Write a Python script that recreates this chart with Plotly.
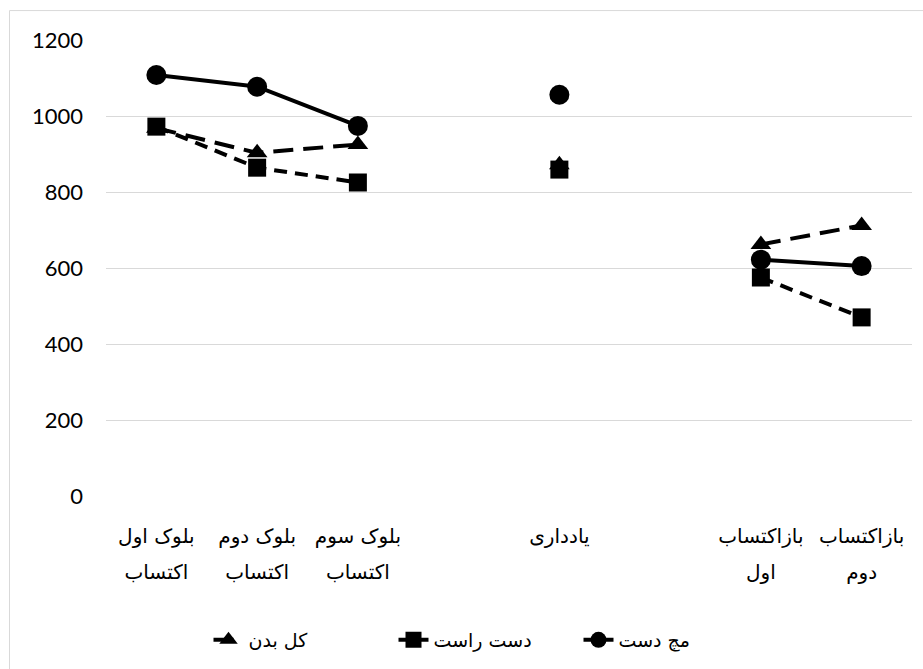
import plotly.graph_objects as go

# Category slots on the x axis (two empty slots separate the three phases)
slots = [0, 1, 2, 3, 4, 5, 6, 7]
label_line1 = ["بلوک اول", "بلوک دوم", "بلوک سوم", "", "یادداری", "", "بازاکتساب", "بازاکتساب"]
label_line2 = ["اکتساب", "اکتساب", "اکتساب", "", "", "", "اول", "دوم"]

# Series values (None = no measurement in that slot)
wrist = [1108, 1077, 974, None, 1056, None, 622, 605]        # مچ دست
right_hand = [972, 864, 825, None, 859, None, 575, 470]      # دست راست
whole_body = [968, 903, 925, None, 872, None, 662, 712]      # کل بدن

y_ticks = [0, 200, 400, 600, 800, 1000, 1200]

FA_FONT = "DejaVu Sans"
NUM_FONT = "Lato, Carlito, Open Sans, sans-serif"

fig = go.Figure()

# Two overlaid x axes share the same slots; each carries one line of the
# two-line category labels.
fig.add_trace(go.Scatter(
    x=slots, y=whole_body, name="کل بدن", mode="lines+markers",
    line=dict(color="black", width=4, dash="20px,10px"),
    marker=dict(symbol="triangle-up", size=18, color="black"),
    connectgaps=False, xaxis="x", yaxis="y",
))
fig.add_trace(go.Scatter(
    x=slots, y=right_hand, name="دست راست", mode="lines+markers",
    line=dict(color="black", width=4, dash="13px,8px"),
    marker=dict(symbol="square", size=18, color="black"),
    connectgaps=False, xaxis="x2", yaxis="y",
))
fig.add_trace(go.Scatter(
    x=slots, y=wrist, name="مچ دست", mode="lines+markers",
    line=dict(color="black", width=4),
    marker=dict(symbol="circle", size=20, color="black"),
    connectgaps=False, xaxis="x2", yaxis="y",
))

W, H = 923, 669
L, R, T, B = 106, 11, 40, 172
pw, ph = W - L - R, H - T - B


def px_x(p):
    return (p - L) / pw


def px_y(p):
    return (H - B - p) / ph


x_common = dict(
    range=[-0.5, 7.5], tickmode="array", tickvals=slots,
    showgrid=False, zeroline=False, showline=False, ticks="",
    tickfont=dict(family=FA_FONT, size=20, color="black"),
)

fig.update_layout(
    width=W, height=H,
    margin=dict(l=L, r=R, t=T, b=B, pad=0),
    paper_bgcolor="white", plot_bgcolor="white",
    showlegend=True,
    legend=dict(
        orientation="h", x=px_x(486), xanchor="center",
        y=px_y(640), yanchor="middle",
        font=dict(family=FA_FONT, size=19, color="black"),
        entrywidth=140, bgcolor="rgba(0,0,0,0)",
    ),
    xaxis=dict(x_common, ticktext=label_line1, ticklabelstandoff=26),
    xaxis2=dict(x_common, ticktext=label_line2, overlaying="x", anchor="y",
                side="bottom", ticklabelstandoff=62),
    yaxis=dict(
        range=[0, 1200], tickmode="array", tickvals=y_ticks,
        showgrid=True, gridcolor="#d9d9d9", gridwidth=1,
        zeroline=False, showline=False, ticks="",
        ticklabelstandoff=22,
        tickfont=dict(family=NUM_FONT, size=22, color="black"),
    ),
    shapes=[dict(
        type="rect", xref="paper", yref="paper",
        x0=px_x(9.5), x1=px_x(940), y0=px_y(700), y1=px_y(10.5),
        line=dict(color="#d9d9d9", width=1), fillcolor="rgba(0,0,0,0)",
        layer="below",
    )],
)

fig.write_html("out.html")
